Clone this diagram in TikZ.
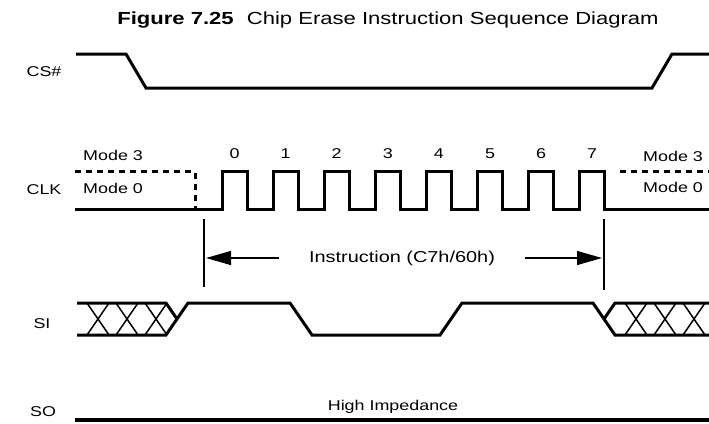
\documentclass[tikz,border=0pt]{standalone}
\usepackage{fontspec}
\setmainfont{Liberation Sans}[FakeStretch=1.26]
\usetikzlibrary{arrows.meta}
\begin{document}
\begin{tikzpicture}[x=1pt,y=-1pt,
  sig/.style={line width=3pt, line join=miter, line cap=butt},
  hair/.style={line width=1.3pt},
  cross/.style={line width=1.5pt},
  dashsig/.style={line width=3pt, dash pattern=on 6pt off 5pt},
  lbl/.style={font=\fontsize{14.2}{16}\selectfont, inner sep=0pt},
  arr/.style={hair, -{Triangle[length=25pt,width=14pt]}}]
\useasboundingbox (0,0) rectangle (709,423);
\node[font=\fontsize{17.5}{20}\selectfont, inner sep=0pt] (title) at (388,20) {\textbf{Figure 7.25}\hspace{0.75em}Chip Erase Instruction Sequence Diagram};
% labels
\node[lbl] (lcs) at (44,72) {CS\#};
\node[lbl] (lclk) at (44,190) {CLK};
\node[lbl] (lsi) at (42,324) {SI};
\node[lbl] (lso) at (43,412) {SO};
% CS#
\draw[sig] (76,54) -- (126,54) -- (146,88) -- (652,88) -- (672,54) -- (712,54);
% CLK
\draw[sig] (75,209) foreach \i in {0,...,7} { -- ({222+51.1*\i},209) -- ++(0,-38) -- ++(25,0) -- ++(0,38) } -- (712,209);
\foreach \i in {0,...,7} \node[lbl] (n\i) at ({234.5+51.1*\i},154) {\i};
\draw[dashsig] (75,171.5) -- (195,171.5) -- (195,209);
\draw[dashsig] (620,171.5) -- (712,171.5);
\node[lbl, anchor=west] (m3l) at (83,155) {Mode 3};
\node[lbl, anchor=west] (m0l) at (83,188) {Mode 0};
\node[lbl, anchor=west] (m3r) at (643,156) {Mode 3};
\node[lbl, anchor=west] (m0r) at (643,187) {Mode 0};
% instruction span
\coordinate (t1a) at (204,219); \coordinate (t1b) at (204,287);
\coordinate (t2a) at (604,219); \coordinate (t2b) at (604,290);
\draw[hair] (t1a) -- (t1b);
\draw[hair] (t2a) -- (t2b);
\node[lbl, font=\fontsize{15.8}{18}\selectfont] (instr) at (402,258) {Instruction (C7h/60h)};
\coordinate (a1s) at (279,258); \coordinate (a1e) at (206,258);
\coordinate (a2s) at (525,258); \coordinate (a2e) at (602,258);
\draw[arr] (a1s) -- (a1e);
\draw[arr] (a2s) -- (a2e);
% SI
\draw[sig] (77,303) -- (166,303) -- (177,319);
\draw[sig] (77,335) -- (166,335) -- (188,303) -- (290,303) -- (312,335) -- (440,335) -- (462,303) -- (593,303) -- (615,335) -- (712,335);
\draw[sig] (604,319) -- (615,303) -- (712,303);
\foreach \c in {98,127,156,636,665,694} {
  \draw[cross] ({\c-11},303) -- ({\c+11},335);
  \draw[cross] ({\c-11},335) -- ({\c+11},303);
}
% SO
\draw[line width=4pt] (75,419.5) -- (712,419.5);
\node[lbl] (hiz) at (393,407) {High Impedance};
\end{tikzpicture}
\end{document}
